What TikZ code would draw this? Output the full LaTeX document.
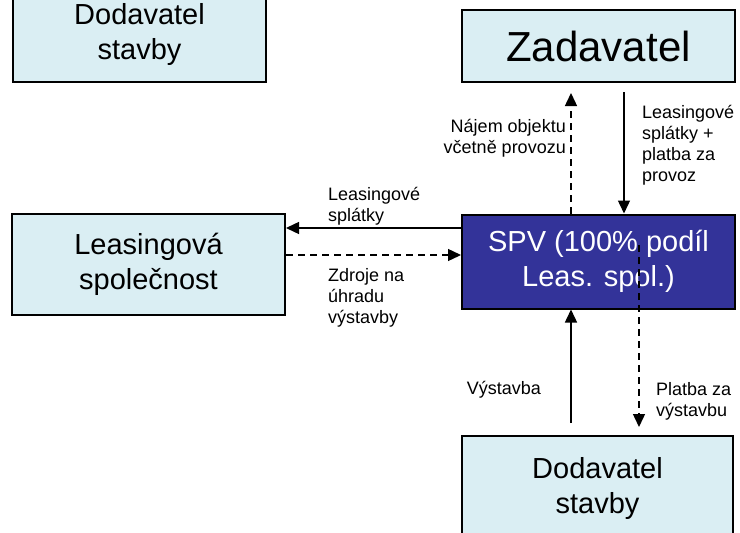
\documentclass[tikz,border=0pt]{standalone}
\usepackage{fontspec}
\setmainfont{Liberation Sans}
\usetikzlibrary{arrows.meta}
\definecolor{boxfill}{HTML}{DAEEF3}
\definecolor{spvfill}{HTML}{333399}
\begin{document}
\begin{tikzpicture}[x=1pt,y=-1pt,
  entity/.style={draw=black,line width=2pt,fill=boxfill,inner sep=0pt,align=center,
    font=\fontsize{29}{35}\selectfont},
  lbl/.style={inner sep=0pt,font=\fontsize{18}{21}\selectfont},
  conn/.style={line width=1.4pt,-{Triangle[width=12pt,length=13pt]}},
  dconn/.style={conn,dash pattern=on 7pt off 5pt}]
\useasboundingbox (0,0) rectangle (740,533);
\node[entity,minimum width=253pt,minimum height=94pt] (dod1) at (139.5,35) {Dodavatel\\stavby};
\node[entity,minimum width=273pt,minimum height=72pt,font=\fontsize{42}{50}\selectfont] (zad) at (598.5,46) {Zadavatel};
\node[entity,minimum width=273pt,minimum height=101pt] (leas) at (148.5,264.5) {Leasingová\\společnost};
\node[entity,fill=spvfill,text=white,minimum width=273pt,minimum height=94pt] (spv) at (598.5,261.5) {SPV (100\% podíl\\Leas. spol.)};
\node[entity,minimum width=271pt,minimum height=105pt] (dod2) at (597.5,488.5) {Dodavatel\\stavby};
% coordinates
\coordinate (upTop) at (571,93);
\coordinate (downTop) at (624,92);
\coordinate (upBot) at (571,423);
\coordinate (dStart) at (639,245);
\coordinate (dEnd) at (639,427);
% connectors
\draw[dconn] (spv.north -| upTop) -- (upTop);
\draw[conn] (downTop) -- (spv.north -| downTop);
\draw[conn] (spv.west |- 0,228) -- (leas.east |- 0,228);
\draw[dconn] (leas.east |- 0,255) -- (spv.west |- 0,255);
\draw[conn] (upBot) -- (spv.south -| upBot);
\draw[dconn] (dStart) -- (dEnd);
% labels
\node[lbl,anchor=east,align=right] (l1) at (566,138.5) {Nájem objektu\\včetně provozu};
\node[lbl,anchor=west,align=left] (l2) at (642,145) {Leasingové\\splátky +\\platba za\\provoz};
\node[lbl,anchor=west,align=left] (l3) at (328,206) {Leasingové\\splátky};
\node[lbl,anchor=west,align=left] (l4) at (328,297.5) {Zdroje na\\úhradu\\výstavby};
\node[lbl,anchor=east] (l5) at (541,390) {Výstavba};
\node[lbl,anchor=west,align=left] (l6) at (656,401.5) {Platba za\\výstavbu};
\end{tikzpicture}
\end{document}
